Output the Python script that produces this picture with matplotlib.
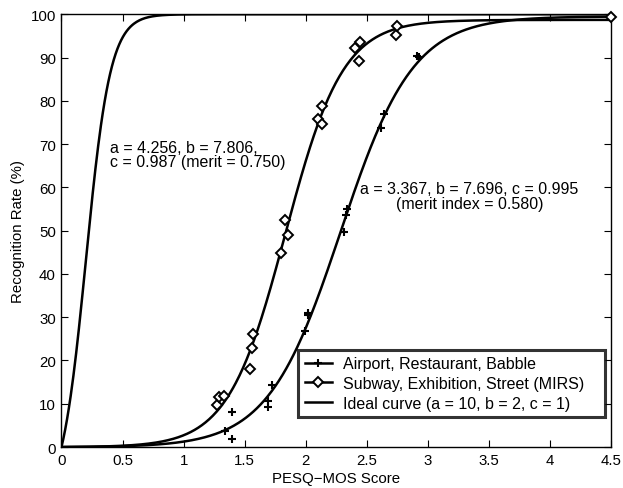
from __future__ import annotations

import matplotlib

matplotlib.use("Agg")
import matplotlib.pyplot as plt
import numpy as np
from matplotlib.lines import Line2D


OUTPUT_PNG = "out.png"

ARB_X = [1.34, 1.40, 1.40, 1.695, 1.695, 1.723, 1.996, 2.015, 2.02, 2.31, 2.338, 2.33,
         2.616, 2.643, 2.911, 2.925, 4.5]
ARB_Y = [3.7, 1.8, 8.2, 10.7, 9.2, 14.3, 26.7, 30.9, 30.4, 49.6, 55.0, 53.6,
         73.8, 76.9, 90.4, 90.2, 99.5]

MIRS_X = [1.277, 1.294, 1.332, 1.545, 1.559, 1.567, 1.799, 1.832, 1.851, 2.097, 2.133, 2.133,
          2.406, 2.441, 2.439, 2.742, 2.748, 4.5]
MIRS_Y = [9.8, 11.6, 11.9, 18.0, 22.8, 26.1, 44.8, 52.4, 49.0, 75.9, 78.8, 74.6,
          92.3, 93.6, 89.1, 95.1, 97.3, 99.3]

# fitted sigmoid parameters (a, b, c) as printed on the chart
ARB_FIT = (3.367, 7.696, 0.995)
MIRS_FIT = (4.256, 7.806, 0.987)
IDEAL_FIT = (10.0, 2.0, 1.0)

X_TICKS = [0, 0.5, 1, 1.5, 2, 2.5, 3, 3.5, 4, 4.5]
Y_TICKS = list(range(0, 101, 10))

LEGEND_LABELS = [
    "Airport, Restaurant, Babble",
    "Subway, Exhibition, Street (MIRS)",
    "Ideal curve (a = 10, b = 2, c = 1)",
]

FONT = 11.5
TICK_FONT = 10.8
LABEL_FONT = 10.8


def sigmoid_curve(xs: np.ndarray, params: tuple[float, float, float]) -> np.ndarray:
    a, b, c = params
    g = 1.0 / (1.0 + np.exp(-(a * xs - b)))
    g0 = 1.0 / (1.0 + np.exp(b))
    return 100.0 * c * (g - g0) / (1.0 - g0)


def main() -> None:
    plt.rcParams.update(
        {
            "font.family": ["Liberation Sans", "DejaVu Sans"],
            "font.size": FONT,
            "axes.unicode_minus": True,
        }
    )

    fig = plt.figure(figsize=(6.23, 4.89), dpi=100)
    ax = fig.add_axes([0.0987, 0.0838, 0.882, 0.885])

    xs = np.linspace(0, 4.5, 600)
    for params in (IDEAL_FIT, MIRS_FIT, ARB_FIT):
        ax.plot(xs, sigmoid_curve(xs, params), color="black", linewidth=1.8, zorder=3)

    ax.plot(ARB_X, ARB_Y, linestyle="none", marker="+", markersize=5.5,
            markeredgewidth=1.5, color="black", zorder=4, clip_on=False)
    ax.plot(MIRS_X, MIRS_Y, linestyle="none", marker="D", markersize=4.8,
            markerfacecolor="white", markeredgewidth=1.4, color="black", zorder=4,
            clip_on=False)

    ax.text(0.4, 67.5, "a = 4.256, b = 7.806,\nc = 0.987 (merit = 0.750)",
            ha="left", va="center", fontsize=FONT, linespacing=0.92)
    ax.text(3.34, 58.0, "a = 3.367, b = 7.696, c = 0.995\n(merit index = 0.580)",
            ha="center", va="center", multialignment="center", fontsize=FONT,
            linespacing=0.92)

    ax.set_xlim(0, 4.5)
    ax.set_ylim(0, 100)
    ax.set_xticks(X_TICKS)
    ax.set_xticklabels([f"{t:g}" for t in X_TICKS])
    ax.set_yticks(Y_TICKS)
    ax.tick_params(direction="in", top=True, right=True, length=5, width=0.8,
                   labelsize=TICK_FONT, pad=4)
    ax.set_xlabel("PESQ\u2212MOS Score", fontsize=LABEL_FONT, labelpad=3.5)
    ax.set_ylabel("Recognition Rate (%)", fontsize=LABEL_FONT, labelpad=4)
    for spine in ax.spines.values():
        spine.set_linewidth(1.0)

    handles = [
        Line2D([], [], color="black", linewidth=1.8, marker="+", markersize=5.5,
               markeredgewidth=1.5),
        Line2D([], [], color="black", linewidth=1.8, marker="D", markersize=4.8,
               markerfacecolor="white", markeredgewidth=1.4),
        Line2D([], [], color="black", linewidth=1.8),
    ]
    legend = ax.legend(handles, LEGEND_LABELS, loc="lower left",
                       bbox_to_anchor=(0.431, 0.069, 0.558, 0.157), mode="expand",
                       fontsize=FONT, frameon=True, fancybox=False, edgecolor="black",
                       handlelength=1.7, handletextpad=0.7, borderpad=0.4,
                       labelspacing=0.3, borderaxespad=0)
    legend.get_frame().set_linewidth(2.2)
    legend.set_zorder(5)

    fig.savefig(OUTPUT_PNG, dpi=100)


if __name__ == "__main__":
    main()
